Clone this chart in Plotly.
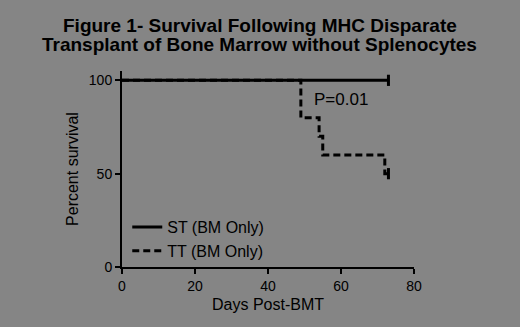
import plotly.graph_objects as go

st_days = [0, 73]
st_surv = [100, 100]
tt_days = [0, 49, 54, 55, 72, 73]
tt_surv = [100, 80, 70, 60, 50, 50]

title_lines = ["Figure 1- Survival Following MHC Disparate",
               "Transplant of Bone Marrow without Splenocytes"]

BG = "#858585"

fig = go.Figure()
fig.add_trace(go.Scatter(x=st_days, y=st_surv, mode="lines", line_shape="hv",
                         line=dict(color="black", width=3), name="ST (BM Only)"))
fig.add_trace(go.Scatter(x=tt_days, y=tt_surv, mode="lines", line_shape="hv",
                         line=dict(color="black", width=3, dash="7px,4px"), name="TT (BM Only)"))
# censor ticks
fig.add_trace(go.Scatter(x=[st_days[-1], tt_days[-1]], y=[st_surv[-1], tt_surv[-1]], mode="markers",
                         marker=dict(symbol="line-ns", size=8, line=dict(color="black", width=3)),
                         showlegend=False, hoverinfo="skip"))

fig.add_annotation(x=60, y=90, text="P=0.01", showarrow=False,
                   font=dict(size=17, color="black", family="Arial"))

for line, ypos in zip(title_lines, [1.232, 1.133]):
    fig.add_annotation(xref="paper", yref="paper", x=0.4726, y=ypos, text="<b>" + line + "</b>",
                       showarrow=False, xanchor="center", yanchor="middle",
                       font=dict(size=19, color="black", family="Arial"))

fig.update_layout(
    width=520, height=327,
    paper_bgcolor=BG, plot_bgcolor=BG,
    margin=dict(l=122, r=106, t=71, b=60),
    font=dict(family="Arial", color="black", size=14),
    legend=dict(x=0.018, y=-0.005, xanchor="left", yanchor="bottom", bgcolor="rgba(0,0,0,0)",
                font=dict(size=16), itemwidth=30, tracegroupgap=0),
    showlegend=True,
)
fig.update_xaxes(range=[0, 80], tickvals=[0, 20, 40, 60, 80], showgrid=False, zeroline=False,
                 showline=True, linecolor="black", linewidth=2, ticks="outside", ticklen=5, tickwidth=2,
                 tickcolor="black", tickfont=dict(size=14),
                 title=dict(text="Days Post-BMT", font=dict(size=16), standoff=6))
fig.update_yaxes(range=[0, 105], tickvals=[0, 50, 100], showgrid=False, zeroline=False,
                 showline=True, linecolor="black", linewidth=2, ticks="outside", ticklen=5, tickwidth=2,
                 tickcolor="black", tickfont=dict(size=14),
                 title=dict(text="Percent survival", font=dict(size=16), standoff=6))

fig.write_html("out.html", config={"displayModeBar": False},
               post_script="document.body.style.margin='0';document.body.style.background='%s';" % BG)
